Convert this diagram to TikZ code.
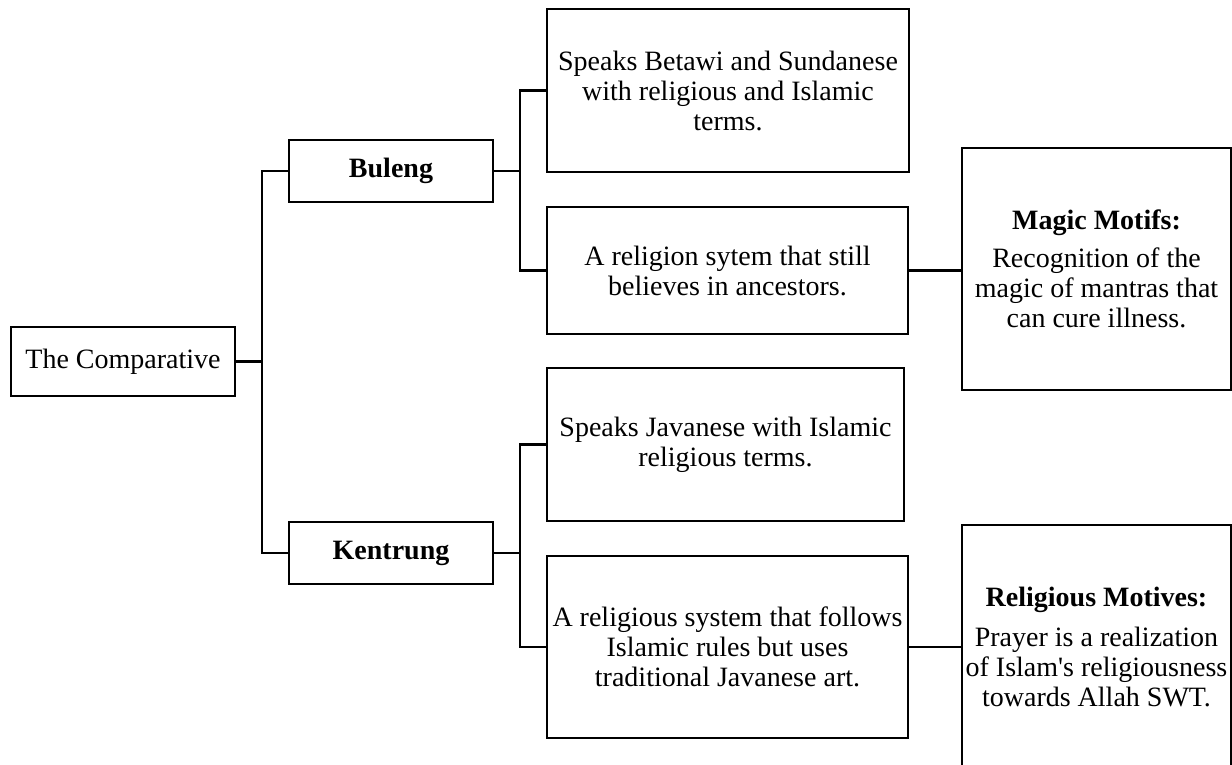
\documentclass[tikz,border=0pt]{standalone}
\usepackage{fontspec}
\setmainfont{Liberation Serif}
\usepackage{tikz}
\usetikzlibrary{positioning}

\begin{document}
\begin{tikzpicture}[x=1pt,y=-1pt,
    box/.style={draw, line width=2.6pt, align=center, inner sep=0pt,
        font=\fontsize{28}{30}\selectfont},
    link/.style={line width=2.6pt}]
    \useasboundingbox (0,0) rectangle (1232,764);
    \clip (0,0) rectangle (1232,764);
    % root and the two groups
    \node[box, minimum width=224, minimum height=69] (root) at (123,361.5) {The Comparative};
    \node[box, minimum width=204, minimum height=62] (buleng) at (391,171) {\textbf{Buleng}};
    \node[box, minimum width=204, minimum height=62] (kentrung) at (391,553) {\textbf{Kentrung}};
    % Buleng features
    \node[box, minimum width=362, minimum height=163] (betawi) at (728,90.5)
        {Speaks Betawi and Sundanese\\ with religious and Islamic\\ terms.};
    \node[box, minimum width=361, minimum height=127] (ancestors) at (727.5,270.5)
        {A religion sytem that still\\ believes in ancestors.};
    % Kentrung features
    \node[box, minimum width=357, minimum height=153] (javanese) at (725.5,444.5)
        {Speaks Javanese with Islamic\\ religious terms.};
    \node[box, minimum width=361, minimum height=182] (rules) at (727.5,647)
        {A religious system that follows\\ Islamic rules but uses\\ traditional Javanese art.};
    % motifs
    \node[box, minimum width=269, minimum height=242] (magic) at (1096.5,269)
        {\textbf{Magic Motifs:}\\[8pt] Recognition of the\\ magic of mantras that\\ can cure illness.};
    \node[box, minimum width=269, minimum height=244] (motives) at (1096.5,647)
        {\textbf{Religious Motives:}\\[10pt] Prayer is a realization\\ of Islam\textquotesingle s religiousness\\ towards Allah SWT.};
    % junctions
    \coordinate (jroot) at (262,361.5);
    \coordinate (jbul) at (520,171);
    \coordinate (jken) at (520,553);
    \draw[link] (root.east) -- (jroot) |- (buleng.west);
    \draw[link] (jroot) |- (kentrung.west);
    \draw[link] (buleng.east) -- (jbul) |- (betawi.west);
    \draw[link] (jbul) |- (ancestors.west);
    \draw[link] (kentrung.east) -- (jken) |- (javanese.west);
    \draw[link] (jken) |- (rules.west);
    \draw[link] (ancestors.east) -- (ancestors.east -| magic.west);
    \draw[link] (rules.east) -- (rules.east -| motives.west);
\end{tikzpicture}
\end{document}
